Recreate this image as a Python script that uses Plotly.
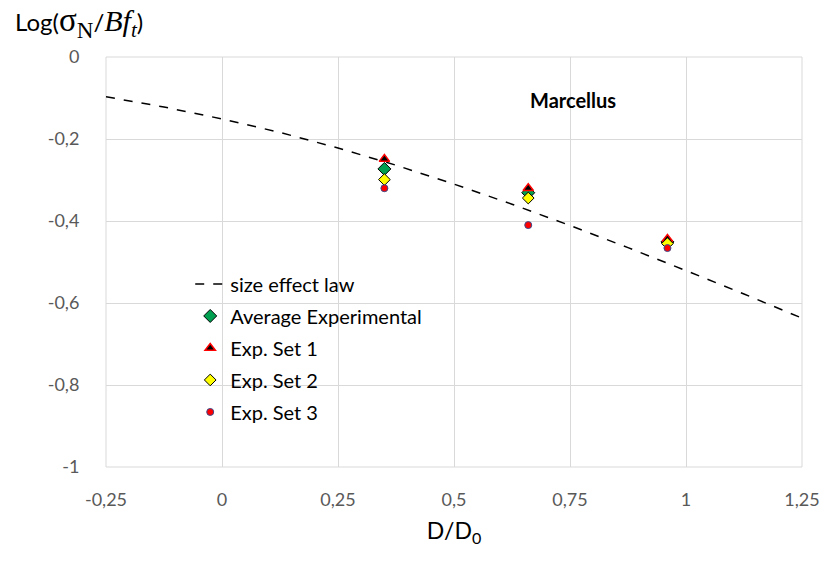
import plotly.graph_objects as go

# Size effect law curve, log(sigma_N / B f_t) against D/D0
law_x = [-0.25, -0.125, 0.0, 0.125, 0.25, 0.375, 0.5, 0.625, 0.75, 0.875, 1.0, 1.125, 1.25]
law_y = [-0.097, -0.122, -0.151, -0.184, -0.222, -0.264, -0.310, -0.359, -0.411, -0.465, -0.521, -0.578, -0.637]

# Experimental points
size_x = [0.35, 0.66, 0.96]
avg_exp = [-0.273, -0.331, -0.451]
exp_set1 = [-0.249, -0.320, -0.444]
exp_set2 = [-0.299, -0.344, -0.455]
exp_set3 = [-0.320, -0.410, -0.466]

x_ticks = [-0.25, 0, 0.25, 0.5, 0.75, 1, 1.25]
x_ticktext = ["-0,25", "0", "0,25", "0,5", "0,75", "1", "1,25"]
y_ticks = [0, -0.2, -0.4, -0.6, -0.8, -1]
y_ticktext = ["0", "-0,2", "-0,4", "-0,6", "-0,8", "-1"]

FONT = "Lato, 'Liberation Sans', sans-serif"
SERIF = "'Liberation Serif', serif"
GRID = "#d9d9d9"
TICK = "#595959"

fig = go.Figure()

fig.add_trace(go.Scatter(
    x=law_x, y=law_y, mode="lines", name="size effect law", legendgroup="law",
    line=dict(color="black", width=1.5, dash="dash"),
))
fig.add_trace(go.Scatter(
    x=size_x, y=avg_exp, mode="markers", name="Average Experimental", legendgroup="avg",
    marker=dict(symbol="diamond", size=10, color="#00a050",
                line=dict(color="black", width=1)),
))
fig.add_trace(go.Scatter(
    x=size_x, y=exp_set1, mode="markers", name="Exp. Set 1", legendgroup="s1",
    marker=dict(symbol="triangle-up", size=9, color="black",
                line=dict(color="#ff0000", width=1.5)),
))
fig.add_trace(go.Scatter(
    x=size_x, y=exp_set2, mode="markers", name="Exp. Set 2", legendgroup="s2",
    marker=dict(symbol="diamond", size=9, color="#ffff00",
                line=dict(color="black", width=1)),
))
fig.add_trace(go.Scatter(
    x=size_x, y=exp_set3, mode="markers", name="Exp. Set 3", legendgroup="s3",
    marker=dict(symbol="circle", size=7, color="#ff0000",
                line=dict(color="#3b4a8c", width=1)),
))

fig.update_layout(
    width=832, height=566,
    margin=dict(l=106, r=30, t=57, b=99),
    paper_bgcolor="white", plot_bgcolor="white",
    font=dict(family=FONT, color="black"),
    showlegend=True,
    legend=dict(
        x=0.121, y=0.494, xanchor="left", yanchor="top",
        bgcolor="rgba(0,0,0,0)", font=dict(size=20, color="black"),
        tracegroupgap=3,
    ),
    xaxis=dict(
        range=[-0.25, 1.25], tickvals=x_ticks, ticktext=x_ticktext,
        showgrid=True, gridcolor=GRID, gridwidth=1,
        zeroline=False, showline=False,
        ticks="outside", ticklen=16, tickcolor="rgba(0,0,0,0)",
        tickfont=dict(size=18, color=TICK),
        title=dict(text="D/D<sub>0</sub>", font=dict(size=23, color="black"), standoff=14),
    ),
    yaxis=dict(
        range=[-1, 0], tickvals=y_ticks, ticktext=y_ticktext,
        showgrid=True, gridcolor=GRID, gridwidth=1,
        zeroline=False, showline=False,
        ticks="outside", ticklen=22, tickcolor="rgba(0,0,0,0)",
        tickfont=dict(size=18, color=TICK),
    ),
    shapes=[
        dict(type="rect", xref="paper", yref="paper", x0=0, x1=1, y0=0, y1=1,
             line=dict(color=GRID, width=1), fillcolor="rgba(0,0,0,0)", layer="below"),
    ],
    annotations=[
        dict(
            text=("Log(<span style=\"font-family:" + SERIF + ";font-size:33px\">σ<sub>N</sub></span>/"
                  "<i><span style=\"font-family:" + SERIF + ";font-size:30px\">Bf<sub>t</sub></span></i>)"),
            xref="paper", yref="paper", x=-0.134, y=1.0, yshift=35,
            xanchor="left", yanchor="middle", showarrow=False,
            font=dict(size=24, color="black"),
        ),
        dict(
            text="<b>Marcellus</b>", x=0.757, y=-0.105, xref="x", yref="y",
            showarrow=False, font=dict(size=20, color="black"),
        ),
    ],
)

fig.write_html("out.html")
